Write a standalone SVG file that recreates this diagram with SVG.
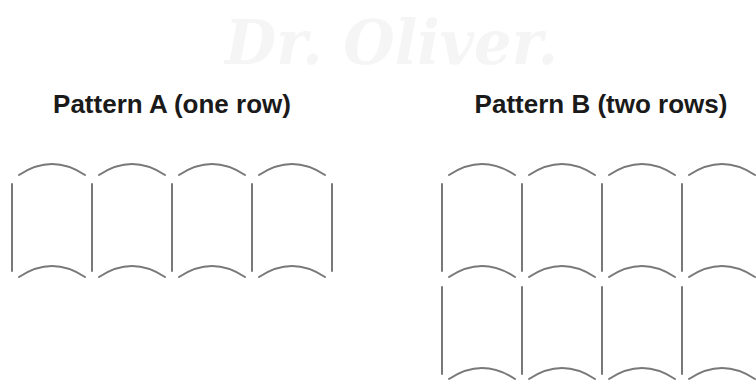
<svg xmlns="http://www.w3.org/2000/svg" xmlns:xlink="http://www.w3.org/1999/xlink" width="756" height="383" viewBox="0 0 756 383">
  <style>
    .ln { fill: none; stroke: #787878; stroke-width: 2; stroke-linecap: round; }
    .title { font-family: "Liberation Sans", Arial, sans-serif; font-weight: bold; font-size: 26px; fill: #1a1a1a; text-anchor: middle; }
    .wm { font-family: "DejaVu Serif", "Liberation Serif", serif; font-style: italic; font-weight: bold; font-size: 62px; fill: #f5f5f5; }
  </style>
  <defs>
    <path id="arc" class="ln" d="M -33 0 Q 0 -22 33 0"/>
    <path id="vl" class="ln" d="M 0 0 V 87"/>
  </defs>
  <rect width="756" height="383" fill="#ffffff"/>
  <text class="wm" x="225" y="64" textLength="333" lengthAdjust="spacingAndGlyphs">Dr. Oliver.</text>

  <g id="patternA">
    <text class="title" x="172" y="113">Pattern A (one row)</text>
    <g id="A-verticals">
      <use xlink:href="#vl" x="12" y="184"/>
      <use xlink:href="#vl" x="92" y="184"/>
      <use xlink:href="#vl" x="172" y="184"/>
      <use xlink:href="#vl" x="252" y="184"/>
      <use xlink:href="#vl" x="332" y="184"/>
    </g>
    <g id="A-arcs">
      <use xlink:href="#arc" x="52" y="175"/>
      <use xlink:href="#arc" x="132" y="175"/>
      <use xlink:href="#arc" x="212" y="175"/>
      <use xlink:href="#arc" x="292" y="175"/>
      <use xlink:href="#arc" x="52" y="277"/>
      <use xlink:href="#arc" x="132" y="277"/>
      <use xlink:href="#arc" x="212" y="277"/>
      <use xlink:href="#arc" x="292" y="277"/>
    </g>
  </g>

  <g id="patternB">
    <text class="title" x="601" y="113">Pattern B (two rows)</text>
    <g id="B-verticals">
      <use xlink:href="#vl" x="442" y="184"/>
      <use xlink:href="#vl" x="522" y="184"/>
      <use xlink:href="#vl" x="602" y="184"/>
      <use xlink:href="#vl" x="682" y="184"/>
      <use xlink:href="#vl" x="442" y="287"/>
      <use xlink:href="#vl" x="522" y="287"/>
      <use xlink:href="#vl" x="602" y="287"/>
      <use xlink:href="#vl" x="682" y="287"/>
    </g>
    <g id="B-arcs">
      <use xlink:href="#arc" x="482" y="175"/>
      <use xlink:href="#arc" x="562" y="175"/>
      <use xlink:href="#arc" x="642" y="175"/>
      <use xlink:href="#arc" x="722" y="175"/>
      <use xlink:href="#arc" x="482" y="277"/>
      <use xlink:href="#arc" x="562" y="277"/>
      <use xlink:href="#arc" x="642" y="277"/>
      <use xlink:href="#arc" x="722" y="277"/>
      <use xlink:href="#arc" x="482" y="379"/>
      <use xlink:href="#arc" x="562" y="379"/>
      <use xlink:href="#arc" x="642" y="379"/>
      <use xlink:href="#arc" x="722" y="379"/>
    </g>
  </g>
</svg>
